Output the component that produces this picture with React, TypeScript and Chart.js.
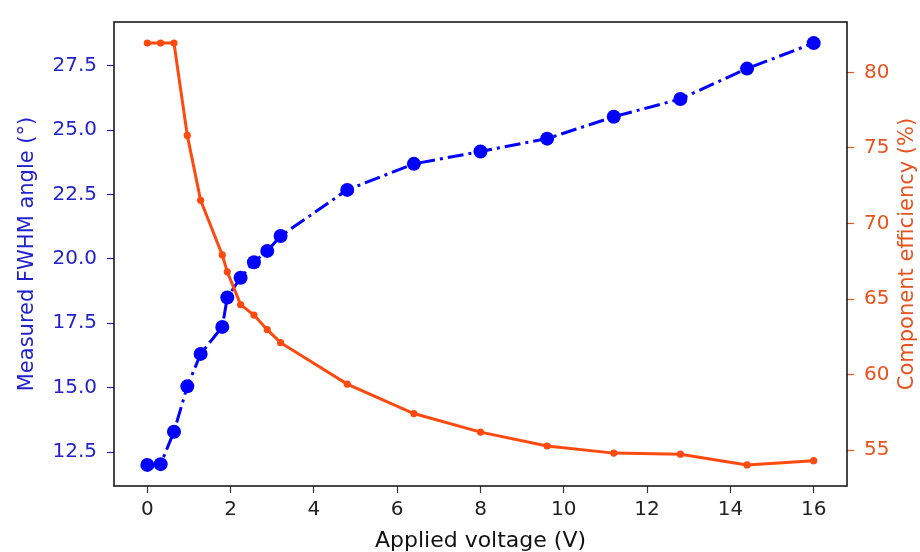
import React, { useEffect, useRef } from "react";
import { Chart, registerables } from "chart.js";

Chart.register(...registerables);

// ---- data ----
const voltage = [0, 0.32, 0.64, 0.96, 1.28, 1.8, 1.92, 2.24, 2.56, 2.88, 3.2, 4.8, 6.4, 8.0, 9.6, 11.2, 12.8, 14.4, 16.0];
const fwhmAngle = [12.0, 12.03, 13.29, 15.05, 16.31, 17.36, 18.5, 19.27, 19.87, 20.31, 20.89, 22.68, 23.69, 24.17, 24.67, 25.52, 26.21, 27.39, 28.38];
const efficiency = [81.94, 81.94, 81.94, 75.83, 71.53, 67.92, 66.8, 64.63, 63.94, 62.97, 62.11, 59.37, 57.42, 56.19, 55.27, 54.8, 54.73, 54.02, 54.3];

const xTicks = [0, 2, 4, 6, 8, 10, 12, 14, 16];
const leftTicks = [12.5, 15.0, 17.5, 20.0, 22.5, 25.0, 27.5];
const rightTicks = [55, 60, 65, 70, 75, 80];

const xTitle = "Applied voltage (V)";
const leftTitle = "Measured FWHM angle (°)";
const rightTitle = "Component efficiency (%)";

// ---- styles ----
const FONT = "'DejaVu Sans', 'Liberation Sans', sans-serif";
const BLUE = "#0000ff";
const BLUE_TEXT = "#2222cc";
const ORANGE = "#ff4a0f";
const ORANGE_TEXT = "#e8521e";

function padRange(vals: number[], frac = 0.05): [number, number] {
  const lo = Math.min(...vals);
  const hi = Math.max(...vals);
  const m = (hi - lo) * frac;
  return [lo - m, hi + m];
}

const framePlugin = {
  id: "frameAndRightTitle",
  afterDraw(chart: any) {
    const { ctx, chartArea } = chart;
    const { left, top, right, bottom } = chartArea;
    ctx.save();
    ctx.strokeStyle = "#1a1a1a";
    ctx.lineWidth = 1.6;
    ctx.strokeRect(left, top, right - left, bottom - top);
    ctx.translate(chart.width - 12, (top + bottom) / 2);
    ctx.rotate(-Math.PI / 2);
    ctx.font = `21px ${FONT}`;
    ctx.fillStyle = ORANGE_TEXT;
    ctx.textAlign = "center";
    ctx.textBaseline = "middle";
    ctx.fillText(rightTitle, 0, 0);
    ctx.restore();
  },
};

export default function App() {
  const canvasRef = useRef<HTMLCanvasElement | null>(null);

  useEffect(() => {
    const canvas = canvasRef.current;
    if (!canvas) return;
    const [xMin, xMax] = padRange(voltage);
    const [lMin, lMax] = padRange(fwhmAngle);
    const [rMin, rMax] = padRange(efficiency);

    const chart = new Chart(canvas, {
      type: "line",
      data: {
        datasets: [
          {
            label: "Component efficiency",
            data: voltage.map((v, i) => ({ x: v, y: efficiency[i] })),
            yAxisID: "y1",
            borderColor: ORANGE,
            backgroundColor: ORANGE,
            borderWidth: 3,
            pointRadius: 3.6,
            pointBorderWidth: 0,
            pointBackgroundColor: ORANGE,
            tension: 0,
            order: 0,
          },
          {
            label: "FWHM angle",
            data: voltage.map((v, i) => ({ x: v, y: fwhmAngle[i] })),
            yAxisID: "y",
            borderColor: BLUE,
            backgroundColor: BLUE,
            borderWidth: 3,
            borderDash: [16, 5, 3, 5],
            pointRadius: 7,
            pointBorderWidth: 0,
            pointBackgroundColor: BLUE,
            tension: 0,
            order: 1,
          },
        ],
      },
      options: {
        animation: false,
        responsive: false,
        devicePixelRatio: 1,
        layout: { padding: { top: 9, left: 0, right: 0, bottom: 0 } },
        plugins: { legend: { display: false }, tooltip: { enabled: false } },
        scales: {
          x: {
            type: "linear",
            min: xMin,
            max: xMax,
            afterBuildTicks: (axis: any) => {
              axis.ticks = xTicks.map((v) => ({ value: v }));
            },
            afterFit: (s: any) => {
              s.height = 66;
            },
            ticks: {
              color: "#222",
              font: { size: 20, family: FONT },
              padding: 5,
              callback: (v: any) => String(v),
            },
            grid: { display: true, drawOnChartArea: false, drawTicks: true, tickLength: 7, tickColor: "#333", tickWidth: 1.2 },
            border: { display: false },
            title: {
              display: true,
              text: xTitle,
              color: "#111",
              font: { size: 22, family: FONT, lineHeight: 1.0 },
              padding: { top: 0, bottom: 0 },
            },
          },
          y: {
            type: "linear",
            position: "left",
            min: lMin,
            max: lMax,
            afterBuildTicks: (axis: any) => {
              axis.ticks = leftTicks.map((v) => ({ value: v }));
            },
            afterFit: (s: any) => {
              s.width = 114;
            },
            ticks: {
              color: BLUE_TEXT,
              font: { size: 20, family: FONT },
              padding: 10,
              callback: (v: any) => Number(v).toFixed(1),
            },
            grid: { display: true, drawOnChartArea: false, drawTicks: true, tickLength: 7, tickColor: BLUE_TEXT, tickWidth: 1.2 },
            border: { display: false },
            title: {
              display: true,
              text: leftTitle,
              color: BLUE_TEXT,
              font: { size: 21, family: FONT },
              padding: { top: 15, bottom: 0 },
            },
          },
          y1: {
            type: "linear",
            position: "right",
            min: rMin,
            max: rMax,
            afterBuildTicks: (axis: any) => {
              axis.ticks = rightTicks.map((v) => ({ value: v }));
            },
            afterFit: (s: any) => {
              s.width = 73;
            },
            ticks: {
              color: ORANGE_TEXT,
              font: { size: 20, family: FONT },
              padding: 10,
              callback: (v: any) => String(v),
            },
            grid: { display: true, drawOnChartArea: false, drawTicks: true, tickLength: 7, tickColor: ORANGE_TEXT, tickWidth: 1.2 },
            border: { display: false },
            title: { display: false },
          },
        },
      },
      plugins: [framePlugin],
    } as any);

    return () => chart.destroy();
  }, []);

  return (
    <div style={{ position: "fixed", left: 0, top: 0, width: 920, height: 552, background: "#fff" }}>
      <canvas ref={canvasRef} width={920} height={552} style={{ display: "block" }} />
    </div>
  );
}
